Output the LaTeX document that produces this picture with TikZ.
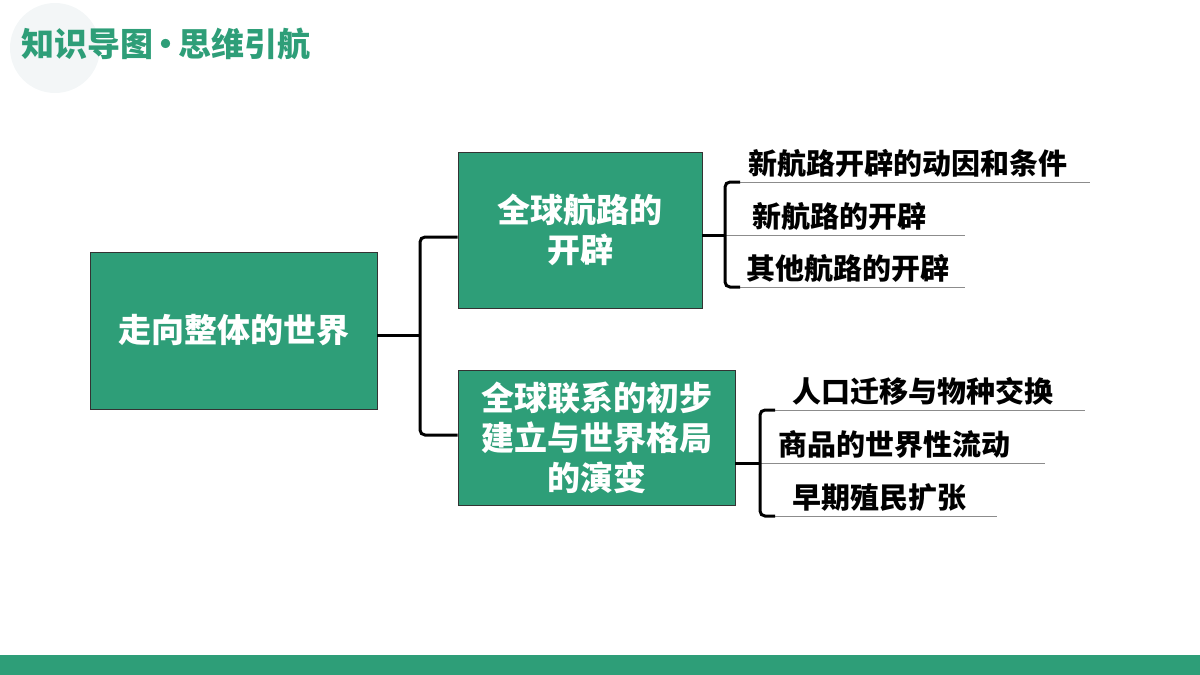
\documentclass[tikz,border=0pt]{standalone}
\usepackage{fontspec}
\setmainfont{Noto Sans CJK SC}
\usetikzlibrary{positioning}
\definecolor{mapgreen}{HTML}{2E9E78}
\definecolor{haze}{HTML}{F3F6F7}
\begin{document}
\begin{tikzpicture}[x=1pt,y=-1pt,
    box/.style ={draw=black!80, fill=mapgreen, thick, text=white, font=\fontsize{33}{40}\selectfont\bfseries, align=center},
    item/.style ={anchor=south west, inner sep=2pt, font=\fontsize{29}{30}\selectfont\bfseries},
    brace/.style ={line width=3pt, rounded corners=5pt},
    rule/.style ={draw=black!45, line width=0.8pt}]
   \useasboundingbox (0,0) rectangle (1200,675);
   \fill[haze] (55,48) circle (45);
   \node[anchor=west, text=mapgreen, font=\fontsize{33}{33}\selectfont\bfseries] (title) at (18,44) {知识导图\hspace{-4pt}•\hspace{-4pt}思维引航};
   \fill[mapgreen] (0,655) rectangle (1200,675);

   \node[box, minimum width=287, minimum height=157] (root) at (233.5,330.5) {走向整体的世界};
   \node[box, minimum width=244, minimum height=156] (A) at (580,230) {全球航路的\\开辟};
   \node[box, minimum width=277, minimum height=135] (B) at (596.5,437.5) {全球联系的初步\\建立与世界格局\\的演变};

   % main bracket
   \coordinate (rj) at (420,335);
   \draw[brace] (root.east |- rj) -- (rj);
   \draw[brace] (A.west |- 0,237) -- (420,237) -- (420,435) -- (B.west |- 0,435);

   % first group
   \coordinate (aj) at (725,235);
   \node[item] (a1) at (746,180) {新航路开辟的动因和条件};
   \node[item] (a2) at (750,233) {新航路的开辟};
   \node[item] (a3) at (744,285) {其他航路的开辟};
   \draw[rule] (735,182) -- (1090,182);
   \draw[rule] (725,235) -- (965,235);
   \draw[rule] (735,287) -- (965,287);
   \draw[brace] (A.east |- aj) -- (aj);
   \draw[brace] (740,182) -- (725,182) -- (725,287) -- (740,287);

   % second group
   \coordinate (bj) at (760,463);
   \node[item] (b1) at (790,408) {人口迁移与物种交换};
   \node[item] (b2) at (776,461) {商品的世界性流动};
   \node[item] (b3) at (790,514) {早期殖民扩张};
   \draw[rule] (770,410) -- (1085,410);
   \draw[rule] (760,463) -- (1045,463);
   \draw[rule] (770,516) -- (997,516);
   \draw[brace] (B.east |- bj) -- (bj);
   \draw[brace] (775,410) -- (760,410) -- (760,516) -- (775,516);
 \end{tikzpicture}
\end{document}
